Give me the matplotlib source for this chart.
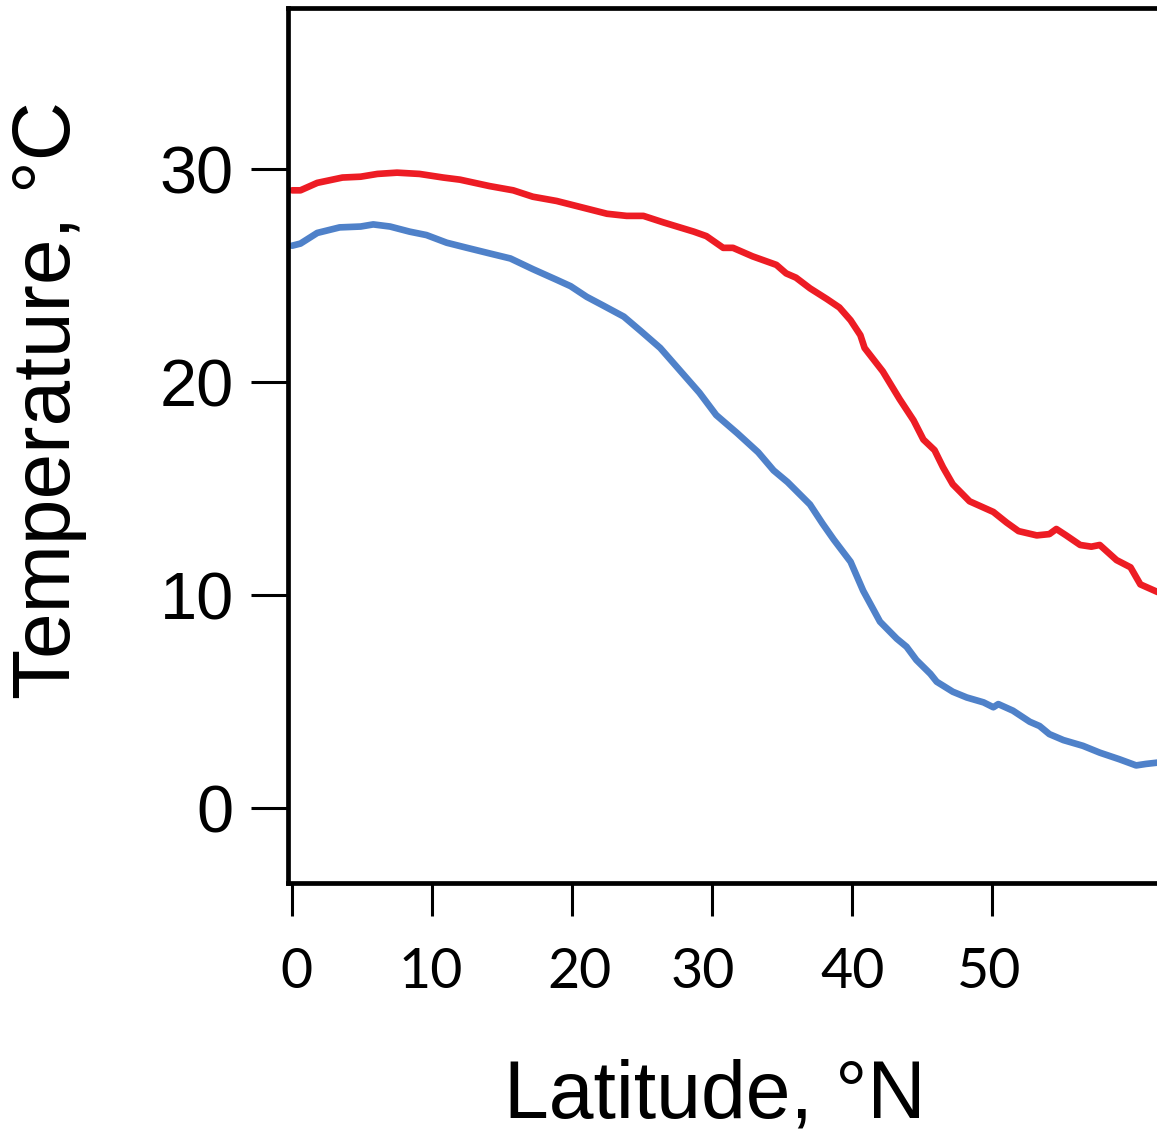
# Sea surface temperature vs latitude, two curves (red = warm, blue = cool)

import matplotlib
matplotlib.use("Agg")
import matplotlib.pyplot as plt
import matplotlib.transforms as mtransforms

# Data
red_lat = [0.0, 0.6, 1.8, 3.6, 4.9, 6.1, 7.5, 9.1, 10.8, 12.0, 14.1, 15.8, 17.2,
           18.9, 21.0, 22.5, 23.9, 25.1, 26.5, 28.7, 29.6, 30.8, 31.5, 32.9, 34.6,
           35.3, 36.0, 37.0, 38.2, 39.1, 39.9, 40.6, 40.9, 42.2, 43.4, 44.4, 45.1,
           45.9, 46.5, 47.2, 48.4, 50.1, 51.05, 51.9, 53.2, 54.1, 54.6, 55.3, 56.3,
           57.1, 57.7, 58.9, 59.9, 60.6, 61.8, 62.5]
red_temp = [29.0, 29.0, 29.35, 29.6, 29.64, 29.77, 29.83, 29.77, 29.6, 29.5, 29.2,
            29.0, 28.7, 28.5, 28.15, 27.9, 27.8, 27.8, 27.5, 27.06, 26.85, 26.3, 26.3,
            25.9, 25.5, 25.1, 24.9, 24.4, 23.9, 23.5, 22.9, 22.2, 21.6, 20.5, 19.2,
            18.2, 17.3, 16.8, 16.0, 15.2, 14.4, 13.9, 13.4, 13.0, 12.8, 12.86, 13.1,
            12.8, 12.35, 12.27, 12.35, 11.64, 11.3, 10.5, 10.15, 10.0]

blue_lat = [0.0, 0.6, 1.8, 3.4, 4.9, 5.8, 7.0, 8.4, 9.6, 11.05, 12.5, 14.1, 15.6,
            17.2, 18.9, 19.9, 21.05, 22.2, 23.7, 24.9, 26.3, 29.1, 30.3, 31.8, 33.3,
            34.4, 35.4, 37.0, 37.9, 38.7, 39.9, 40.8, 42.0, 43.2, 43.9, 44.6, 45.6,
            46.05, 47.2, 48.2, 49.4, 50.1, 50.45, 51.5, 52.7, 53.4, 54.1, 55.1, 56.5,
            57.7, 59.1, 60.3, 61.0, 61.8, 62.5]
blue_temp = [26.4, 26.5, 27.0, 27.26, 27.3, 27.4, 27.3, 27.06, 26.9, 26.54, 26.3,
             26.04, 25.8, 25.3, 24.8, 24.5, 24.0, 23.6, 23.07, 22.4, 21.6, 19.5, 18.45,
             17.6, 16.7, 15.85, 15.3, 14.25, 13.35, 12.6, 11.56, 10.2, 8.75, 7.95, 7.57,
             6.95, 6.3, 5.93, 5.46, 5.19, 4.96, 4.73, 4.88, 4.57, 4.05, 3.85, 3.47, 3.19,
             2.92, 2.6, 2.29, 2.0, 2.07, 2.13, 2.2]

x_ticks = [0, 10, 20, 30, 40, 50]
x_tick_labels = ["0", "10", "20", "30", "40", "50"]
y_ticks = [0, 10, 20, 30]
y_tick_labels = ["0", "10", "20", "30"]

# small horizontal nudges of the x tick labels (pixels), as in the original
x_label_shift = [4, -1, 7, -9, 1, -3]

RED = "#ED1C24"
BLUE = "#4F81C9"

fig = plt.figure(figsize=(11.57, 11.38), dpi=100)
ax = fig.add_axes([288 / 1157, 1 - 883 / 1138, 1 - 288 / 1157, (883 - 8) / 1138])

ax.plot(red_lat, red_temp, color=RED, lw=4.8, solid_capstyle="round")
ax.plot(blue_lat, blue_temp, color=BLUE, lw=4.8, solid_capstyle="round")

ax.set_xlim(-0.29, 61.79)
ax.set_ylim(-3.52, 37.56)

for side in ["left", "bottom", "top"]:
    ax.spines[side].set_linewidth(3.4)
ax.spines["right"].set_visible(False)

ax.set_yticks(y_ticks)
ax.set_yticklabels(y_tick_labels, fontsize=48, family="Liberation Sans")
ax.tick_params(axis="y", direction="out", length=27, width=2.2, pad=12)

ax.set_xticks(x_ticks)
ax.set_xticklabels(x_tick_labels, fontsize=40, family="Lato")
ax.tick_params(axis="x", direction="out", length=24, width=2.2, pad=22)

for lbl, dx in zip(ax.get_xticklabels(), x_label_shift):
    lbl.set_transform(lbl.get_transform() +
                      mtransforms.ScaledTranslation(dx / 100, 0, fig.dpi_scale_trans))

fig.text(49 / 1157, 1 - 400 / 1138, "Temperature, °C", rotation=90,
         ha="center", va="center", fontsize=59, family="Liberation Sans")
fig.text(715 / 1157, 1 - 1097 / 1138, "Latitude, °N",
         ha="center", va="center", fontsize=58, family="Liberation Sans")

fig.savefig("out.png", dpi=100)
